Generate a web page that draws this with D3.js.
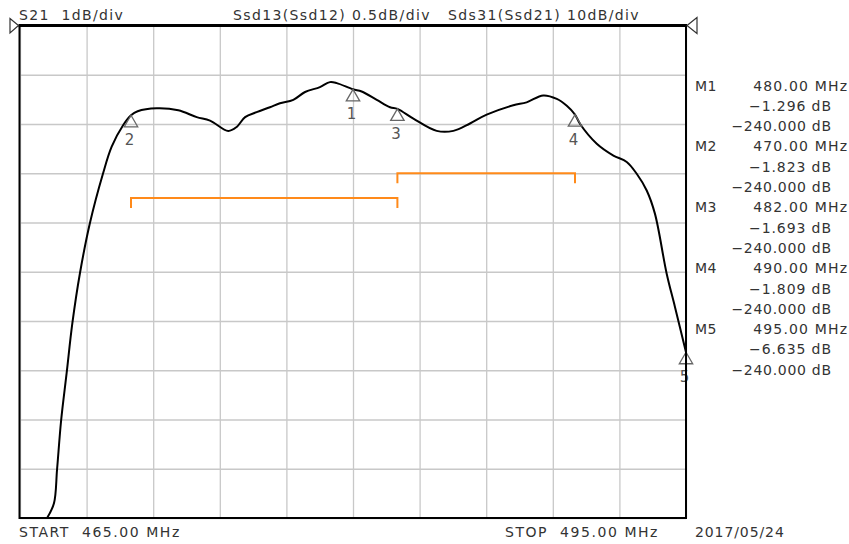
<!DOCTYPE html>
<html>
<head>
<meta charset="utf-8">
<script src="https://cdn.jsdelivr.net/npm/d3@7"></script>
<style>
  html, body { margin: 0; padding: 0; background: #fff; }
  svg { display: block; }
  text { font-family: "DejaVu Sans", sans-serif; fill: #333; white-space: pre; }
</style>
</head>
<body>
<svg id="chart" width="849" height="544"></svg>
<script>
// ---- Data ----
const freqMHz = [466.22, 466.53, 466.67, 466.85, 467.10, 467.36, 467.70, 468.15, 468.73, 469.13,
  469.65, 470.00, 470.30, 471.16, 472.13, 472.96,
  473.56, 474.38, 474.76, 475.14, 475.66, 476.26, 476.71, 477.31, 477.84, 478.51,
  478.96, 479.27, 480.00, 480.39, 481.07, 481.67, 482.00, 482.72, 483.77, 484.52,
  485.27, 486.02, 487.22, 487.82, 488.57, 489.18, 489.63, 490.00, 490.23, 490.98,
  491.73, 492.33, 492.78, 493.23, 493.60, 494.13, 494.50, 495.00];
const s21dB = [-10.0, -9.70, -9.01, -8.03, -7.06, -6.04, -5.03, -4.01, -3.02, -2.46,
  -2.02, -1.823, -1.74, -1.68, -1.72, -1.86,
  -1.93, -2.14, -2.06, -1.86, -1.76, -1.66, -1.58, -1.51, -1.35, -1.25,
  -1.15, -1.17, -1.296, -1.34, -1.51, -1.66, -1.693, -1.89, -2.14, -2.14,
  -1.99, -1.81, -1.62, -1.56, -1.42, -1.49, -1.63, -1.809, -2.00, -2.40,
  -2.64, -2.77, -3.01, -3.35, -3.82, -5.04, -5.71, -6.635];

const markerNames = ["M1", "M2", "M3", "M4", "M5"];
const markerFreq = [480.00, 470.00, 482.00, 490.00, 495.00];
const markerDB = [-1.296, -1.823, -1.693, -1.809, -6.635];
const markerOther = [-240.000, -240.000, -240.000, -240.000, -240.000];

const limitStart = [470, 482];
const limitStop = [482, 490];
const limitDB = [-3.5, -3.0];

const freqDomain = [465, 495];
const dbDomain = [-10, 0];
const xTickCount = 10;
const yTickCount = 10;

const headerLeft = "S21  1dB/div";
const headerMid = "Ssd13(Ssd12) 0.5dB/div";
const headerRight = "Sds31(Ssd21) 10dB/div";
const startLabel = "START  465.00 MHz";
const stopLabel = "STOP  495.00 MHz";
const dateLabel = "2017/05/24";

// ---- Layout ----
const svg = d3.select("#chart");
const L = 20, R = 686, T = 25.5, B = 518;
const x = d3.scaleLinear().domain(freqDomain).range([L, R]);
const y = d3.scaleLinear().domain(dbDomain).range([B, T]);

// grid
const xt = d3.range(xTickCount + 1).map(i => freqDomain[0] + i * (freqDomain[1] - freqDomain[0]) / xTickCount);
const yt = d3.range(yTickCount + 1).map(i => dbDomain[0] + i * (dbDomain[1] - dbDomain[0]) / yTickCount);

svg.append("g").call(
  d3.axisBottom(x).tickValues(xt).tickSize(-(B - T)).tickFormat("")
).attr("transform", `translate(0,${B})`)
  .call(g => g.select(".domain").remove())
  .call(g => g.selectAll("line").attr("stroke", "#c8c8c8").attr("stroke-width", 1.3));

svg.append("g").call(
  d3.axisLeft(y).tickValues(yt).tickSize(-(R - L)).tickFormat("")
).attr("transform", `translate(${L},0)`)
  .call(g => g.select(".domain").remove())
  .call(g => g.selectAll("line").attr("stroke", "#c8c8c8").attr("stroke-width", 1.3));

// limit lines (orange brackets)
const tickLen = 10;
const limG = svg.append("g").attr("fill", "none").attr("stroke", "#ff8a1a").attr("stroke-width", 2);
limitDB.forEach((v, i) => {
  const x0 = x(limitStart[i]), x1 = x(limitStop[i]), yy = y(v);
  limG.append("path").attr("d", `M${x0},${yy + tickLen}V${yy}H${x1}V${yy + tickLen}`);
});

// trace
const data = freqMHz.map((f, i) => [f, s21dB[i]]);
svg.append("path")
  .datum(data)
  .attr("fill", "none")
  .attr("stroke", "#000")
  .attr("stroke-width", 2)
  .attr("stroke-linejoin", "round")
  .attr("d", d3.line().x(d => x(d[0])).y(d => y(d[1])).curve(d3.curveCatmullRom.alpha(0.5)));

// marker triangles
const mg = svg.append("g");
markerFreq.forEach((f, i) => {
  const px = x(f), py = y(markerDB[i]);
  mg.append("path")
    .attr("d", `M${px},${py}L${px - 6.7},${py + 11.5}L${px + 6.7},${py + 11.5}Z`)
    .attr("fill", "none").attr("stroke", "#666").attr("stroke-width", 1.3);
  mg.append("text")
    .attr("x", px - 1.5).attr("y", py + 30)
    .attr("text-anchor", "middle")
    .attr("font-size", 15)
    .style("fill", "#555")
    .text(String(i + 1));
});

// frame
svg.append("path")
  .attr("d", `M${L - 0.5},${T}V${B}H${R}V${T}`)
  .attr("fill", "none").attr("stroke", "#000").attr("stroke-width", 2);
svg.append("line")
  .attr("x1", L - 1.5).attr("x2", R + 1).attr("y1", T).attr("y2", T)
  .attr("stroke", "#000").attr("stroke-width", 3);

// reference level pointers
const refY = y(dbDomain[1]);
svg.append("path")
  .attr("d", `M${L - 10},${refY - 7}L${L - 1.5},${refY}L${L - 10},${refY + 7.5}Z`)
  .attr("fill", "#fff").attr("stroke", "#333").attr("stroke-width", 1.2);
svg.append("path")
  .attr("d", `M${R + 11},${refY - 8}L${R + 1},${refY}L${R + 11},${refY + 8}Z`)
  .attr("fill", "#fff").attr("stroke", "#333").attr("stroke-width", 1.2);

// texts
const fs = 14;
function txt(xx, yy, s, ls, anchor) {
  const a = anchor || "start";
  return svg.append("text").attr("x", a === "end" ? xx + ls : xx).attr("y", yy)
    .attr("font-size", fs).attr("letter-spacing", ls)
    .attr("text-anchor", a).text(s);
}
const lsHead = 1.37, lsTable = 0.9, lsFoot = 1.55;
txt(19, 19.5, headerLeft, lsHead);
txt(233, 19.5, headerMid, lsHead);
txt(448, 19.5, headerRight, lsHead);

// marker table
const lineH = 20.3, top0 = 90.5;
const fmt = v => d3.format(".3f")(v).replace("-", "\u2212");
markerNames.forEach((m, i) => {
  const b = top0 + i * 3 * lineH;
  txt(695, b, m, 0.4);
  txt(847, b, `${markerFreq[i].toFixed(2)} MHz`, 1.15, "end");
  txt(831, b + lineH, `${fmt(markerDB[i])} dB`, lsTable, "end");
  txt(831, b + 2 * lineH, `${fmt(markerOther[i])} dB`, 0.7, "end");
});

// footer
txt(19, 536.5, startLabel, lsFoot);
txt(505, 536.5, stopLabel, lsFoot);
txt(695, 536.5, dateLabel, 0.9);
</script>
</body>
</html>
